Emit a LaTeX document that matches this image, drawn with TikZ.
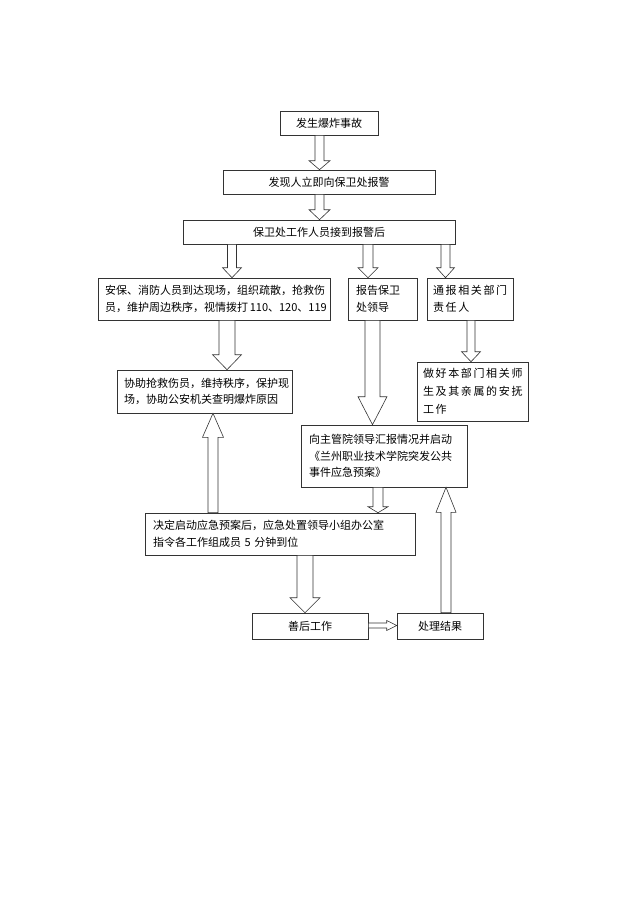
\documentclass[tikz,border=0pt]{standalone}
\usepackage{fontspec}
\setmainfont{Noto Sans CJK SC}
\newfontfamily\widefont{Noto Sans CJK SC}[LetterSpace=15]
\usetikzlibrary{calc}

\newcommand{\blockarrow}[6]{%
  \draw[arrowline] let \p1=(#2), \p2=(#3) in
    ({#1pt-#4pt},\y1) -- ({#1pt+#4pt},\y1) -- ({#1pt+#4pt},{\y2+#6pt})
    -- ({#1pt+#5pt},{\y2+#6pt}) -- (#1pt,\y2) -- ({#1pt-#5pt},{\y2+#6pt})
    -- ({#1pt-#4pt},{\y2+#6pt}) -- cycle;
}
\newcommand{\blockarrowh}[6]{%
  \draw[arrowline] let \p1=(#2), \p2=(#3) in
    (\x1,{-#1pt+#4pt}) -- ({\x2-#6pt},{-#1pt+#4pt}) -- ({\x2-#6pt},{-#1pt+#5pt})
    -- (\x2,-#1pt) -- ({\x2-#6pt},{-#1pt-#5pt}) -- ({\x2-#6pt},{-#1pt-#4pt})
    -- (\x1,{-#1pt-#4pt}) -- cycle;
}

\begin{document}
\begin{tikzpicture}[x=1pt, y=-1pt,
  box/.style={draw=black!80, line width=0.6pt, inner sep=0pt, inner xsep=8pt,
    font=\fontsize{11}{16.5}\selectfont},
  cbox/.style={box, align=center},
  lbox/.style={box, align=left},
  arrowline/.style={draw=black!80, line width=0.6pt, fill=white, line join=miter}]
\useasboundingbox (0,0) rectangle (639,905);

\node[cbox, minimum width=98pt, minimum height=24pt] (fasheng) at (329,123) {发生爆炸事故};
\node[cbox, minimum width=212pt, minimum height=24pt] (baojing) at (329,182) {发现人立即向保卫处报警};
\node[cbox, minimum width=272pt, minimum height=24pt] (jiedao) at (319,232) {保卫处工作人员接到报警后};

\node[lbox, inner xsep=7pt, text width=218pt, minimum height=42pt] (anbao) at (214,299)
  {安保、消防人员到达现场，组织疏散，抢救伤\\员，维护周边秩序，视情拨打\,110、120、119};
\node[lbox, text width=53pt, minimum height=42pt] (baogao) at (382.5,299) {报告保卫\\处领导};
\node[lbox, inner xsep=6pt, text width=74pt, minimum height=42pt,
  font=\widefont\fontsize{11}{16.5}\selectfont] (tongbao) at (470,299) {通报相关部门\\责任人};

\node[lbox, inner xsep=7pt, text width=161pt, minimum height=43pt] (xiezhu) at (204.5,391.5)
  {协助抢救伤员，维持秩序，保护现\\场，协助公安机关查明爆炸原因};
\node[lbox, inner xsep=6pt, text width=99pt, minimum height=59pt,
  font=\widefont\fontsize{11}{18}\selectfont] (zuohao) at (472.5,391.5)
  {做好本部门相关师\\生及其亲属的安抚\\工作};

\node[lbox, text width=150pt, minimum height=62pt] (huibao) at (384,456)
  {向主管院领导汇报情况并启动\\《兰州职业技术学院突发公共\\事件应急预案》};
\node[lbox, text width=254pt, minimum height=42pt] (jueding) at (280,534)
  {决定启动应急预案后，应急处置领导小组办公室\\指令各工作组成员 5 分钟到位};

\node[cbox, minimum width=116pt, minimum height=26pt] (shanhou) at (310,626) {善后工作};
\node[cbox, minimum width=86pt, minimum height=26pt] (jieguo) at (440,626) {处理结果};

\blockarrow{319.5}{fasheng.south}{baojing.north}{4.5}{10.5}{9}
\blockarrow{319.5}{baojing.south}{jiedao.north}{4.5}{10.5}{10}
\blockarrow{232}{jiedao.south}{anbao.north}{4.5}{9.5}{10}
\blockarrow{368}{jiedao.south}{baogao.north}{5}{10}{10}
\blockarrow{445.5}{jiedao.south}{tongbao.north}{4.5}{9}{10}
\blockarrow{227}{anbao.south}{xiezhu.north}{8}{14.5}{15}
\blockarrow{372.5}{baogao.south}{huibao.north}{7.5}{14.5}{28}
\blockarrow{471}{tongbao.south}{zuohao.north}{4}{9.5}{10}
\blockarrow{213}{jueding.north}{xiezhu.south}{5}{10.5}{-24}
\blockarrow{378}{huibao.south}{jueding.north}{5}{10}{6}
\blockarrow{446}{jieguo.north}{huibao.south}{5}{10}{-25}
\blockarrow{305}{jueding.south}{shanhou.north}{8}{15}{15}
\blockarrowh{625.5}{shanhou.east}{jieguo.west}{2.5}{5}{10}

\end{tikzpicture}
\end{document}
